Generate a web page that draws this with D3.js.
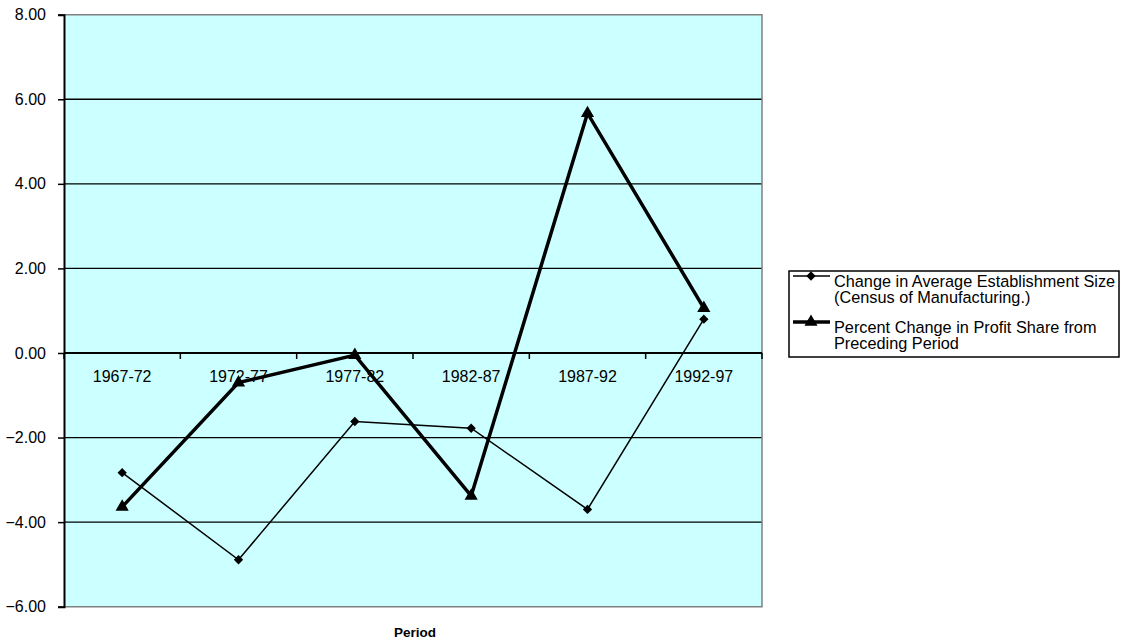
<!DOCTYPE html>
<html>
<head>
<meta charset="utf-8">
<script src="https://cdn.jsdelivr.net/npm/d3@7"></script>
<style>
  html, body { margin: 0; padding: 0; background: #fff; }
  svg { display: block; font-family: "Liberation Sans", Arial, sans-serif; }
</style>
</head>
<body>
<svg id="chart" width="1121" height="643"></svg>
<script>
// Periods and series values
const periods = ["1967-72", "1972-77", "1977-82", "1982-87", "1987-92", "1992-97"];
const establishmentSize = [-2.83, -4.89, -1.62, -1.78, -3.70, 0.80];
const profitShare = [-3.64, -0.70, -0.05, -3.38, 5.67, 1.06];
const yTicks = [8, 6, 4, 2, 0, -2, -4, -6];
const seriesNames = [
  ["Change in Average Establishment Size", "(Census of Manufacturing.)"],
  ["Percent Change in Profit Share from", "Preceding Period"]
];
const xTitle = "Period";

const svg = d3.select("#chart");
const plot = { left: 64, right: 762, top: 14.7, bottom: 606.7 };

const x = d3.scaleBand().domain(periods).range([plot.left, plot.right]);
const y = d3.scaleLinear().domain([-6, 8]).range([plot.bottom, plot.top]);
const cx = d => x(d) + x.bandwidth() / 2;

// plot area background
svg.append("rect")
  .attr("x", plot.left).attr("y", plot.top)
  .attr("width", plot.right - plot.left).attr("height", plot.bottom - plot.top)
  .attr("fill", "#CCFFFF");

// horizontal gridlines
svg.append("g").selectAll("line")
  .data(yTicks.filter(v => v !== 8 && v !== -6))
  .join("line")
  .attr("x1", plot.left).attr("x2", plot.right)
  .attr("y1", d => y(d)).attr("y2", d => y(d))
  .attr("stroke", "#000").attr("stroke-width", 1.3);

// gray frame (top, right, bottom)
svg.append("path")
  .attr("d", `M${plot.left},${plot.top}H${plot.right}V${plot.bottom}H${plot.left}`)
  .attr("fill", "none").attr("stroke", "#808080").attr("stroke-width", 1.5);

// y axis
const yAxis = d3.axisLeft(y).tickValues(yTicks).tickFormat(d3.format(".2f")).tickSize(6).tickPadding(12);
const gy = svg.append("g").attr("transform", `translate(${plot.left},0)`).call(yAxis);
gy.select(".domain").attr("stroke", "#000").attr("stroke-width", 2);
gy.selectAll(".tick line").attr("stroke", "#000").attr("stroke-width", 1.5);
gy.selectAll(".tick text").attr("font-size", 16).attr("fill", "#000")
  .attr("font-family", "Liberation Sans, Arial, sans-serif");

// x axis along zero line, ticks at category boundaries
const gx = svg.append("g");
gx.append("line")
  .attr("x1", plot.left).attr("x2", plot.right)
  .attr("y1", y(0)).attr("y2", y(0))
  .attr("stroke", "#000").attr("stroke-width", 2);
const bounds = periods.map(p => x(p)).concat([x(periods[periods.length - 1]) + x.bandwidth()]);
gx.selectAll("line.tk").data(bounds).join("line").attr("class", "tk")
  .attr("x1", d => d).attr("x2", d => d)
  .attr("y1", y(0)).attr("y2", y(0) + 6)
  .attr("stroke", "#000").attr("stroke-width", 1.5);
gx.selectAll("text").data(periods).join("text")
  .attr("x", d => cx(d)).attr("y", y(0) + 29)
  .attr("text-anchor", "middle").attr("font-size", 16).attr("fill", "#000")
  .text(d => d);

// series lines
const line = d3.line().x((d, i) => cx(periods[i])).y(d => y(d));

svg.append("path").datum(establishmentSize)
  .attr("d", line).attr("fill", "none").attr("stroke", "#000").attr("stroke-width", 1.5);
svg.append("path").datum(profitShare)
  .attr("d", line).attr("fill", "none").attr("stroke", "#000").attr("stroke-width", 3.5);

const diamond = d3.symbol().type(d3.symbolDiamond2).size(55);
const triangle = d3.symbol().type(d3.symbolTriangle).size(75);

svg.append("g").selectAll("path").data(establishmentSize).join("path")
  .attr("d", diamond)
  .attr("transform", (d, i) => `translate(${cx(periods[i])},${y(d)})`)
  .attr("fill", "#000");
svg.append("g").selectAll("path").data(profitShare).join("path")
  .attr("d", triangle)
  .attr("transform", (d, i) => `translate(${cx(periods[i])},${y(d)})`)
  .attr("fill", "#000");

// axis title
svg.append("text")
  .attr("x", (plot.left + plot.right) / 2 + 2).attr("y", 637)
  .attr("text-anchor", "middle").attr("font-size", 13.5).attr("font-weight", "bold")
  .text(xTitle);

// legend
const lg = svg.append("g");
lg.append("rect").attr("x", 789).attr("y", 271).attr("width", 330).attr("height", 86)
  .attr("fill", "#fff").attr("stroke", "#000").attr("stroke-width", 1.5);
const legendRows = [
  { y: 276, width: 1.5, sym: diamond },
  { y: 322, width: 3.5, sym: triangle }
];
legendRows.forEach((r, i) => {
  lg.append("line").attr("x1", 793).attr("x2", 830).attr("y1", r.y).attr("y2", r.y)
    .attr("stroke", "#000").attr("stroke-width", r.width);
  lg.append("path").attr("d", r.sym).attr("transform", `translate(811,${r.y})`).attr("fill", "#000");
  seriesNames[i].forEach((t, j) => {
    lg.append("text").attr("x", 834).attr("y", r.y + 11 + j * 16)
      .attr("font-size", 16.3).attr("fill", "#000").text(t);
  });
});
</script>
</body>
</html>
